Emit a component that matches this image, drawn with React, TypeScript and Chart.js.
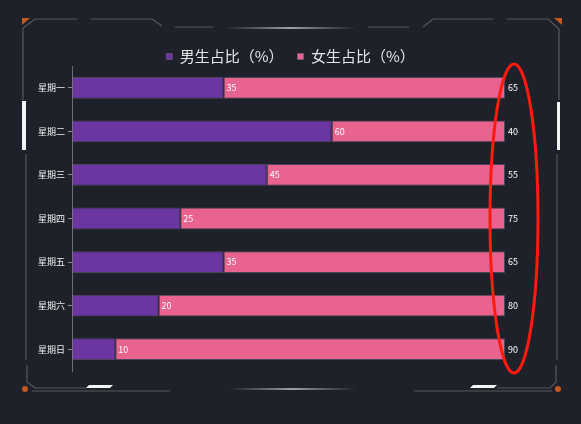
import { useEffect, useRef } from 'react'
import Chart from 'chart.js/auto'

const days = ['星期一', '星期二', '星期三', '星期四', '星期五', '星期六', '星期日']
const maleShare = [35, 60, 45, 25, 35, 20, 10]
const femaleShare = [65, 40, 55, 75, 65, 80, 90]

const BG = '#1e2129'
const FRAME = '#55585f'
const FONT = '"Noto Sans CJK SC", "Noto Sans", sans-serif'

// decorative frame drawn behind the chart
const framePlugin = {
  id: 'frame',
  beforeDraw(chart: any) {
    const { ctx, width, height } = chart
    ctx.save()
    ctx.fillStyle = BG
    ctx.fillRect(0, 0, width, height)

    ctx.strokeStyle = FRAME
    ctx.lineWidth = 1.2
    const line = (pts: number[][]) => {
      ctx.beginPath()
      ctx.moveTo(pts[0][0], pts[0][1])
      pts.slice(1).forEach((p) => ctx.lineTo(p[0], p[1]))
      ctx.stroke()
    }
    // top
    line([[23, 100], [23, 28], [35, 19], [77, 19]])
    line([[91, 19], [152, 19], [162, 26]])
    line([[175, 27], [213, 27]])
    line([[368, 27], [409, 27]])
    line([[423, 27], [433, 19], [493, 19]])
    line([[507, 19], [548, 19], [559, 29], [559, 100]])
    // sides
    line([[26, 154], [26, 360]])
    line([[557, 154], [557, 360]])
    // bottom
    line([[27, 365], [27, 382], [35, 388], [86, 388]])
    line([[497, 388], [550, 388], [556, 382], [556, 365]])
    line([[32, 391], [170, 391]])
    line([[414, 391], [552, 391]])

    const glow = (x0: number, x1: number, y: number) => {
      const g = ctx.createLinearGradient(x0, 0, x1, 0)
      g.addColorStop(0, 'rgba(200,200,200,0)')
      g.addColorStop(0.5, 'rgba(220,220,220,0.9)')
      g.addColorStop(1, 'rgba(200,200,200,0)')
      ctx.strokeStyle = g
      ctx.lineWidth = 1.5
      ctx.beginPath()
      ctx.moveTo(x0, y)
      ctx.lineTo(x1, y)
      ctx.stroke()
    }
    glow(224, 357, 28)
    glow(228, 357, 389)

    ctx.fillStyle = '#f4f4f4'
    ctx.fillRect(22, 101, 4, 49)
    ctx.fillRect(557, 102, 3, 48)
    const para = (x0: number, x1: number) => {
      ctx.beginPath()
      ctx.moveTo(x0 + 3, 385)
      ctx.lineTo(x1 + 3, 385)
      ctx.lineTo(x1, 388)
      ctx.lineTo(x0, 388)
      ctx.closePath()
      ctx.fill()
    }
    para(86, 110)
    para(470, 494)

    ctx.fillStyle = '#c4581f'
    ctx.beginPath()
    ctx.moveTo(22, 18); ctx.lineTo(30, 18); ctx.lineTo(22, 25)
    ctx.fill()
    ctx.beginPath()
    ctx.moveTo(562, 18); ctx.lineTo(554, 18); ctx.lineTo(562, 25)
    ctx.fill()
    ctx.beginPath()
    ctx.arc(25, 389, 3, 0, Math.PI * 2)
    ctx.arc(558, 389, 3, 0, Math.PI * 2)
    ctx.fill()
    ctx.restore()
  },
}

// tighter legend box, centred on the whole canvas
const legendPlugin = {
  id: 'legendTweak',
  beforeLayout(chart: any) {
    const lg = chart.legend
    if (lg && !lg._tweaked) {
      const fit = lg.fit.bind(lg)
      lg.fit = function () {
        fit()
        this.height -= 8
      }
      lg._tweaked = true
    }
  },
  afterLayout(chart: any) {
    const lg = chart.legend
    if (lg) {
      lg.left = 0
      lg.right = chart.width
      lg.width = chart.width
    }
  },
}

// value labels at the end of each bar + red highlight ellipse
const labelPlugin = {
  id: 'barLabels',
  afterDatasetsDraw(chart: any) {
    const { ctx, chartArea } = chart
    ctx.save()
    ctx.font = `9px ${FONT}`
    ctx.fillStyle = '#ffffff'
    ctx.textBaseline = 'middle'
    chart.data.datasets.forEach((ds: any, i: number) => {
      chart.getDatasetMeta(i).data.forEach((bar: any, j: number) => {
        ctx.fillText(String(ds.data[j]), bar.x + 3, bar.y)
      })
    })
    ctx.strokeStyle = '#ff1a0e'
    ctx.lineWidth = 3
    ctx.beginPath()
    ctx.ellipse(
      chartArea.right + 9,
      (chartArea.top + chartArea.bottom) / 2,
      24,
      (chartArea.bottom - chartArea.top) / 2 + 2,
      0,
      0,
      Math.PI * 2
    )
    ctx.stroke()
    ctx.restore()
  },
}

const App = () => {
  const canvasRef = useRef<HTMLCanvasElement>(null)
  const chartRef = useRef<Chart | null>(null)

  useEffect(() => {
    document.body.style.margin = '0'
    document.body.style.background = BG
    if (!canvasRef.current) return
    if (chartRef.current) chartRef.current.destroy()

    chartRef.current = new Chart(canvasRef.current, {
      type: 'bar',
      data: {
        labels: days,
        datasets: [
          {
            label: '男生占比（%）',
            data: maleShare,
            backgroundColor: '#6b35a2',
            borderColor: 'rgba(140,110,160,0.45)',
            borderWidth: 1,
            borderSkipped: false,
          },
          {
            label: '女生占比（%）',
            data: femaleShare,
            backgroundColor: '#e8638e',
            borderColor: 'rgba(140,110,160,0.45)',
            borderWidth: 1,
            borderSkipped: false,
          },
        ],
      },
      options: {
        indexAxis: 'y',
        responsive: false,
        animation: false,
        datasets: {
          bar: { categoryPercentage: 1, barPercentage: 0.5 },
        },
        layout: { padding: { top: 35, left: 35, right: 76, bottom: 53 } },
        plugins: {
          legend: {
            position: 'top',
            labels: {
              color: '#e6e6e6',
              font: { size: 15, family: FONT },
              boxWidth: 6,
              boxHeight: 6,
              padding: 14,
            },
          },
          tooltip: { enabled: false },
        },
        scales: {
          x: { display: false, stacked: true, min: 0, max: 100 },
          y: {
            stacked: true,
            border: { display: true, color: '#6a6d73', width: 1 },
            grid: {
              offset: false,
              drawOnChartArea: false,
              drawTicks: true,
              tickLength: 4,
              color: '#8a8d93',
            },
            ticks: {
              color: '#f0f0f0',
              font: { size: 9, family: FONT },
              padding: 3,
            },
          },
        },
      },
      plugins: [framePlugin, legendPlugin, labelPlugin],
    })

    return () => {
      if (chartRef.current) {
        chartRef.current.destroy()
        chartRef.current = null
      }
    }
  }, [])

  return (
    <div style={{ width: 581, height: 424 }}>
      <canvas ref={canvasRef} width={581} height={424}></canvas>
    </div>
  )
}

export default App
